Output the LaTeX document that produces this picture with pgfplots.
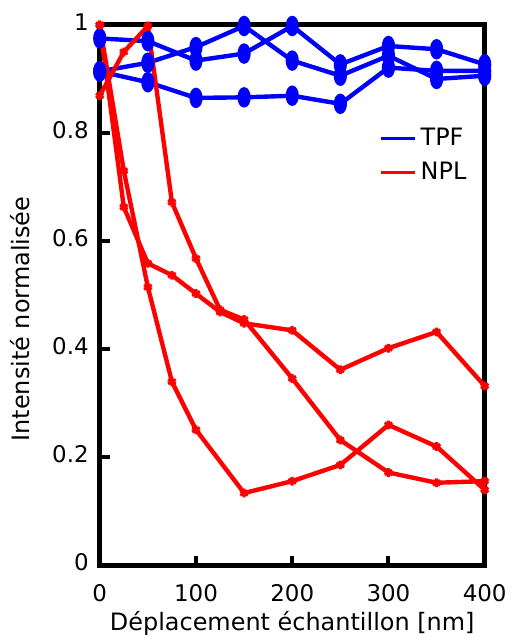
\documentclass[border=0pt]{standalone}
\usepackage{fontspec}
\setmainfont{DejaVu Sans}
\usepackage{pgfplots}
\pgfplotsset{compat=1.18}
\definecolor{pblue}{RGB}{0,0,255}
\definecolor{pred}{RGB}{255,0,0}
\begin{document}
\begin{tikzpicture}
\begin{axis}[
  scale only axis, width=193pt, height=271pt,
  xmin=0, xmax=400, ymin=0, ymax=1,
  xtick={0,100,200,300,400},
  ytick={0,0.2,0.4,0.6,0.8,1},
  yticklabels={0,0.2,0.4,0.6,0.8,1},
  tick pos=left, tick align=inside,
  major tick length=5pt,
  every tick/.style={black, line width=2pt},
  axis line style={line width=2.5pt},
  /pgf/number format/assume math mode=true,
  ticklabel style={font=\fontsize{11.5}{13}\selectfont},
  yticklabel style={xshift=-2pt, yshift=1.5pt},
  xticklabel style={yshift=-6pt},
  xlabel={Déplacement échantillon [nm]},
  ylabel={Intensité normalisée},
  label style={font=\fontsize{12}{14}\selectfont},
  xlabel style={yshift=0pt, inner sep=1pt},
  ylabel style={at={(ticklabel cs:0.456)}, yshift=4.5pt},
  clip=false,
  legend style={draw=none, fill=none, at={(0.71,0.825)}, anchor=north west,
    font=\fontsize{12}{14}\selectfont, row sep=3pt},
  legend cell align=left,
]
\addlegendimage{pblue, line width=1.6pt}
\addlegendentry{TPF}
\addlegendimage{pred, line width=1.6pt}
\addlegendentry{NPL}

% TPF (blue)
\addplot[forget plot, pblue, line width=2.2pt, mark=*, mark size=4pt, mark options={xscale=0.55}] coordinates {
(0,0.975) (50,0.970) (100,0.934) (150,0.947) (200,0.998) (250,0.927) (300,0.961) (350,0.955) (400,0.927)};
\addplot[forget plot, pblue, line width=2.2pt, mark=*, mark size=4pt, mark options={xscale=0.55}] coordinates {
(0,0.914) (50,0.930) (100,0.959) (150,0.998) (200,0.934) (250,0.906) (300,0.943) (350,0.900) (400,0.906)};
\addplot[forget plot, pblue, line width=2.2pt, mark=*, mark size=4pt, mark options={xscale=0.55}] coordinates {
(0,0.914) (50,0.894) (100,0.865) (150,0.866) (200,0.869) (250,0.854) (300,0.921) (350,0.915) (400,0.915)};

% NPL (red)
\addplot[forget plot, pred, line width=2.2pt, mark=asterisk, mark size=2.2pt, mark options={line width=1.5pt}] coordinates {
(0,0.869) (25,0.950) (50,0.998) (75,0.672) (100,0.568) (125,0.473) (150,0.455) (200,0.346) (250,0.232) (300,0.172) (350,0.153) (400,0.156)};
\addplot[forget plot, pred, line width=2.2pt, mark=asterisk, mark size=2.2pt, mark options={line width=1.5pt}] coordinates {
(0,1.0) (25,0.730) (50,0.515) (75,0.340) (100,0.251) (150,0.134) (200,0.156) (250,0.186) (300,0.260) (350,0.220) (400,0.140)};
\addplot[forget plot, pred, line width=2.2pt, mark=asterisk, mark size=2.2pt, mark options={line width=1.5pt}] coordinates {
(0,1.0) (25,0.663) (50,0.559) (75,0.537) (100,0.503) (125,0.469) (150,0.448) (200,0.435) (250,0.362) (300,0.402) (350,0.432) (400,0.332)};
\end{axis}
\path ([yshift=12.5pt]current axis.north west);
\path ([xshift=-50pt,yshift=-35.5pt]current axis.south west);
\end{tikzpicture}
\end{document}
